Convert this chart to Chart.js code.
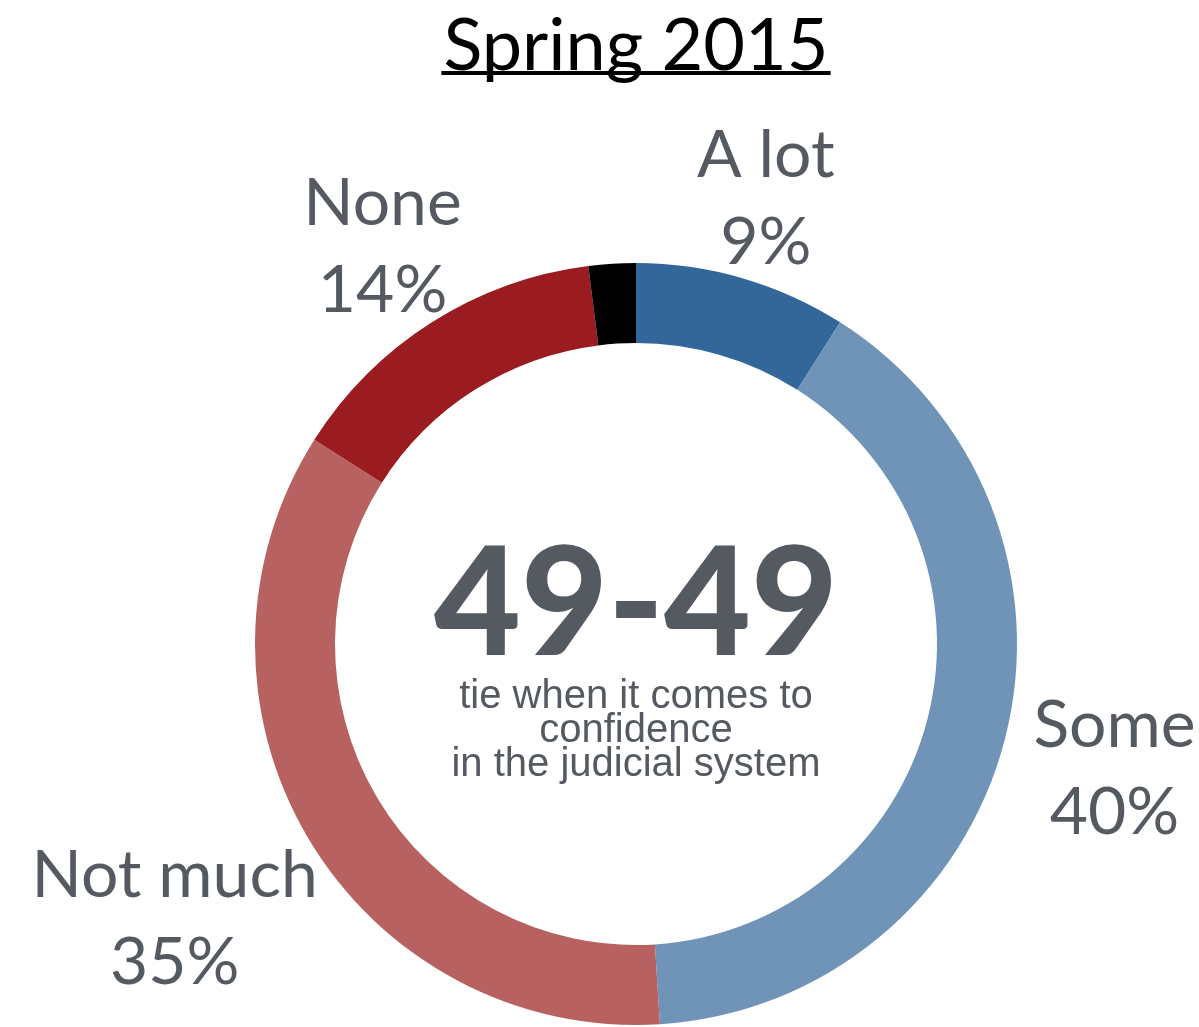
<!DOCTYPE html>
<html>
<head>
<meta charset="utf-8">
<script src="https://cdn.jsdelivr.net/npm/chart.js@4.4.0/dist/chart.umd.min.js"></script>
<style>
html,body{margin:0;padding:0;background:#fff;}
#wrap{position:relative;width:1199px;height:1027px;}
</style>
</head>
<body>
<div id="wrap"><canvas id="c" width="1199" height="1027"></canvas></div>
<script>
const categories = ["A lot", "Some", "Not much", "None", "Don't know"];
const values = [9, 40, 35, 14, 2];
const labelTexts = ["9%", "40%", "35%", "14%", ""];
const colors = ["#336699", "#6f94b8", "#b76260", "#9a1c20", "#000000"];
const titleText = "Spring 2015";
const centerBig = "49-49";
const centerLines = ["tie when it comes to", "confidence", "in the judicial system"];

const textGray = "#555a61";
const labelDist = [465, 494, 536, 473, 0];

const labelPlugin = {
  id: 'customLabels',
  afterDraw(chart) {
    const ctx = chart.ctx;
    const meta = chart.getDatasetMeta(0);
    ctx.save();
    ctx.fillStyle = textGray;
    ctx.textAlign = 'center';
    ctx.textBaseline = 'alphabetic';
    ctx.font = '66px Lato';
    meta.data.forEach((arc, i) => {
      if (!labelTexts[i]) return;
      const mid = (arc.startAngle + arc.endAngle) / 2;
      const cx = arc.x + Math.cos(mid) * labelDist[i];
      const cy = arc.y + Math.sin(mid) * labelDist[i];
      ctx.fillText(categories[i], cx, cy - 20);
      ctx.fillText(labelTexts[i], cx, cy + 67);
    });
    // center text
    const a = meta.data[0];
    ctx.font = '900 150px Lato';
    ctx.fillText(centerBig, a.x, a.y + 11);
    ctx.font = '40px "Liberation Sans"';
    centerLines.forEach((t, k) => ctx.fillText(t, a.x, a.y + 64 + k * 34));
    // title
    ctx.fillStyle = '#000';
    ctx.font = '72px Lato';
    const tw = ctx.measureText(titleText).width;
    ctx.fillText(titleText, 636, 70);
    ctx.fillRect(636 - tw / 2 - 2, 71, tw + 4, 4);
    ctx.restore();
  }
};

new Chart(document.getElementById('c'), {
  type: 'doughnut',
  data: {
    labels: categories,
    datasets: [{
      data: values,
      backgroundColor: colors,
      borderWidth: 0
    }]
  },
  options: {
    responsive: false,
    animation: false,
    cutout: '79%',
    layout: { padding: { top: 263, bottom: 2, left: 255, right: 182 } },
    plugins: { legend: { display: false }, tooltip: { enabled: false }, title: { display: false } }
  },
  plugins: [labelPlugin]
});
</script>
</body>
</html>
